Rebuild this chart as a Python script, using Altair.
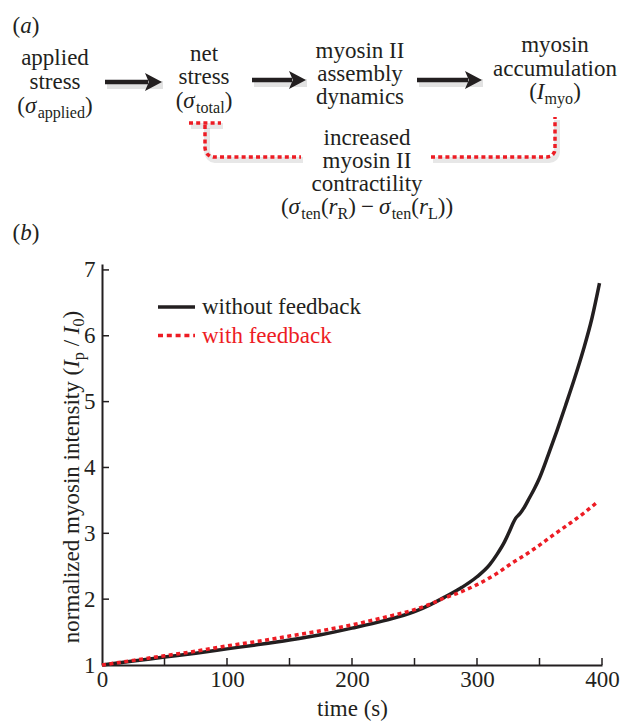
import altair as alt
import pandas as pd

# ---------------- values ----------------
time_without = [0, 25, 50, 75, 100, 125, 150, 175, 200, 225, 250, 262, 275, 288, 300, 310,
                316, 322, 326, 329, 331, 334, 338, 342, 346, 350, 357, 364, 371, 378, 385, 392, 398]
intensity_without = [1.00, 1.06, 1.12, 1.18, 1.245, 1.31, 1.38, 1.46, 1.56, 1.67, 1.81, 1.91,
                     2.04, 2.18, 2.34, 2.52, 2.68, 2.87, 3.03, 3.16, 3.23, 3.29, 3.40, 3.54,
                     3.68, 3.84, 4.19, 4.56, 4.95, 5.35, 5.78, 6.27, 6.80]
time_with = [0, 25, 50, 75, 100, 125, 150, 175, 200, 225, 250, 262, 273, 287, 300, 315, 329,
             340, 350, 360, 372, 385, 396]
intensity_with = [1.00, 1.07, 1.14, 1.21, 1.29, 1.36, 1.44, 1.52, 1.61, 1.72, 1.84, 1.92, 2.01,
                  2.11, 2.22, 2.38, 2.56, 2.69, 2.82, 2.96, 3.12, 3.30, 3.47]
series_names = ["without feedback", "with feedback"]
x_label_values = [0, 100, 200, 300, 400]
x_tick_values = [50, 100, 150, 200, 250, 300, 350, 400]
y_label_values = [1, 2, 3, 4, 5, 6, 7]
y_tick_values = [2, 3, 4, 5, 6, 7]

# ---------------- layout (page pixels) ----------------
LEFT, TOP, W, H = 102, 264, 500, 401
X0, X1 = 0, 400
Y0, Y1 = 1, 7.09
FONT = "Liberation Serif"
DARK = "#231F20"
RED = "#ED1C24"
FS = 23


def dx(px):
    return (px - LEFT) / W * (X1 - X0) + X0


def dy(py):
    return Y0 + (TOP + H - py) / H * (Y1 - Y0)


REG = {' ': 250, '(': 333, ')': 333, 'a': 444, 'b': 500, 'c': 444, 'd': 500, 'e': 444,
       'f': 333, 'g': 500, 'h': 500, 'i': 278, 'j': 278, 'k': 500, 'l': 278, 'm': 778,
       'n': 500, 'o': 500, 'p': 500, 'q': 500, 'r': 333, 's': 389, 't': 278, 'u': 500,
       'v': 500, 'w': 722, 'x': 500, 'y': 500, 'z': 444, 'I': 333, 'R': 667, 'L': 611,
       '/': 278, '0': 500, '−': 564, 'σ': 550}
ITA = {'I': 333, 'r': 389, 'a': 500, 'b': 500, 'σ': 550, 'p': 500}


def text_width(s, size, italic=False):
    tab = ITA if italic else REG
    return sum(tab.get(c, REG.get(c, 500)) for c in s) / 1000 * size


pieces = []


def add_text(text, px, py, color=DARK, italic=False, align="center", size=FS, angle=0):
    pieces.append(dict(x=dx(px), y=dy(py), text=text, color=color, italic=italic,
                       align=align, size=size, angle=angle))


def add_runs(runs, c, base, color=DARK, size=FS, vertical=False):
    sub = size * 0.7
    shift = size * 0.22
    items = []
    for text, kind in runs:
        if kind == "g":
            items.append((None, kind, text * size))
            continue
        s = sub if kind in ("s", "si") else size
        items.append((text, kind, text_width(text, s, kind in ("i", "si"))))
    total = sum(w for _, _, w in items)
    pos = -total / 2
    for text, kind, w in items:
        if text is not None:
            s = sub if kind in ("s", "si") else size
            it = kind in ("i", "si")
            off = shift if kind in ("s", "si") else 0
            if vertical:
                add_text(text, base + off, c - pos, color, it, "left", s, 270)
            else:
                add_text(text, c + pos, base + off, color, it, "left", s, 0)
        pos += w


# panel labels
add_runs([("(", "n"), ("a", "i"), (")", "n")], 26, 33)
add_runs([("(", "n"), ("b", "i"), (")", "n")], 26, 240)
# diagram column 1
add_text("applied", 55, 65)
add_text("stress", 55, 89)
add_runs([("(", "n"), ("σ", "i"), ("applied", "s"), (")", "n")], 55, 113)
# column 2
add_text("net", 204, 61)
add_text("stress", 204, 84)
add_runs([("(", "n"), ("σ", "i"), ("total", "s"), (")", "n")], 204, 108)
# column 3
add_text("myosin II", 360, 58)
add_text("assembly", 360, 81)
add_text("dynamics", 360, 104)
# column 4
add_text("myosin", 555, 52)
add_text("accumulation", 555, 76)
add_runs([("(", "n"), ("I", "i"), ("myo", "s"), (")", "n")], 555, 99)
# feedback text
add_text("increased", 367, 145)
add_text("myosin II", 367, 168)
add_text("contractility", 367, 191)
add_runs([("(", "n"), ("σ", "i"), ("ten", "s"), ("(", "n"), ("r", "i"), ("R", "s"), (")", "n"),
          (0.22, "g"), ("−", "n"), (0.22, "g"), ("σ", "i"), ("ten", "s"), ("(", "n"), ("r", "i"),
          ("L", "s"), ("))", "n")], 367, 214)
# legend text
add_text(series_names[0], 202, 314, DARK, False, "left")
add_text(series_names[1], 202, 343, RED, False, "left")
# y axis title (rotated)
add_runs([("normalized myosin intensity (", "n"), ("I", "i"), ("p", "s"), (0.25, "g"), ("/", "n"),
          (0.25, "g"), ("I", "i"), ("0", "s"), (")", "n")], 477, 79, DARK, FS, vertical=True)
ann = pd.DataFrame(pieces)

# shared scales and axes
xs = alt.Scale(domain=[X0, X1], nice=False, zero=False)
ys = alt.Scale(domain=[Y0, Y1], nice=False, zero=False)
xax = alt.Axis(values=x_label_values, ticks=False, tickSize=0, grid=False, labelFont=FONT,
               labelFontSize=FS, labelColor=DARK, domainColor=DARK, domainWidth=2,
               labelFlush=False, labelPadding=3, title="time (s)", titleFont=FONT,
               titleFontSize=FS, titleFontWeight="normal", titleColor=DARK, titlePadding=6)
yax = alt.Axis(values=y_label_values, ticks=False, tickSize=0, grid=False, labelFont=FONT,
               labelFontSize=FS, labelColor=DARK, domainColor=DARK, domainWidth=2,
               labelPadding=7, title=None)


def X(f):
    return alt.X(f, type="quantitative", scale=xs, axis=xax)


def Y(f):
    return alt.Y(f, type="quantitative", scale=ys, axis=yax)


df_without = pd.DataFrame({"t": time_without, "v": intensity_without})
df_with = pd.DataFrame({"t": time_with, "v": intensity_with})

line_without = alt.Chart(df_without).mark_line(color=DARK, strokeWidth=3.5, interpolate="monotone").encode(
    x=X("t"), y=Y("v"))
line_with = alt.Chart(df_with).mark_line(color=RED, strokeWidth=3.5, strokeDash=[4, 3.5],
                                         interpolate="monotone").encode(x=X("t"), y=Y("v"))

xt = pd.DataFrame({"t": x_tick_values, "v": [Y0] * len(x_tick_values)})
yt = pd.DataFrame({"t": [X0] * len(y_tick_values), "v": y_tick_values})
xticks = alt.Chart(xt).mark_tick(orient="vertical", size=7, thickness=1.5, yOffset=-3.5,
                                 color=DARK, opacity=1).encode(x=X("t"), y=Y("v"))
yticks = alt.Chart(yt).mark_tick(orient="horizontal", size=7, thickness=1.5, xOffset=3.5,
                                 color=DARK, opacity=1).encode(x=X("t"), y=Y("v"))

# legend samples
leg = pd.DataFrame({"x": [dx(158)], "x2": [dx(195)], "y1": [dy(307)], "y2": [dy(335.5)]})
leg_black = alt.Chart(leg).mark_rule(color=DARK, strokeWidth=3.5).encode(
    x=X("x"), x2="x2", y=Y("y1"))
leg_red = alt.Chart(leg).mark_rule(color=RED, strokeWidth=3.5, strokeDash=[5, 3.8]).encode(
    x=X("x"), x2="x2", y=Y("y2"))

# arrows of the diagram
arrows_px = [(105, 162, 82), (252, 306, 80), (417, 482, 80)]
HEAD = 17
arr = pd.DataFrame({
    "x": [dx(a) for a, b, c in arrows_px],
    "x2": [dx(b - HEAD + 3) for a, b, c in arrows_px],
    "hx": [dx(b - HEAD / 2) for a, b, c in arrows_px],
    "y": [dy(c) for a, b, c in arrows_px],
    "sx": [dx(a + 2) for a, b, c in arrows_px],
    "sx2": [dx(b + 1) for a, b, c in arrows_px],
    "sy": [dy(c + 3) for a, b, c in arrows_px],
})
arrow_shadow = alt.Chart(arr).mark_rule(color="#7a7a7a", opacity=0.22, strokeWidth=8).encode(
    x=X("sx"), x2="sx2", y=Y("sy"))
arrow_shaft = alt.Chart(arr).mark_rule(color=DARK, strokeWidth=4.5).encode(x=X("x"), x2="x2", y=Y("y"))
arrow_head = alt.Chart(arr).mark_point(shape="M -1 -1.05 L 1 0 L -1 1.05 L -0.55 0 Z", filled=True,
                                       size=HEAD * HEAD, color=DARK, opacity=1, strokeWidth=0).encode(
    x=X("hx"), y=Y("y"))

# red dotted feedback path
paths_px = {
    "bar": [(189, 123), (221, 123)],
    "left": [(205, 125), (205, 148), (205.7, 151.5), (207.6, 154.4), (210, 156.3), (213, 157), (301, 157)],
    "right": [(431, 157), (547, 157), (550.4, 156.3), (552.8, 154.6), (554.4, 152), (555, 149), (555, 117)],
}
rows = []
for name, pts in paths_px.items():
    for i, (px, py) in enumerate(pts):
        rows.append({"path": name, "i": i, "x": dx(px), "y": dy(py),
                     "sx": dx(px + 2), "sy": dy(py + 3)})
red_df = pd.DataFrame(rows)
red_shadow = alt.Chart(red_df).mark_line(color="#7a7a7a", opacity=0.18, strokeWidth=6).encode(
    x=X("sx"), y=Y("sy"), detail="path:N", order="i:Q")
red_path = alt.Chart(red_df).mark_line(color=RED, strokeWidth=3.5, strokeDash=[4, 3.2]).encode(
    x=X("x"), y=Y("y"), detail="path:N", order="i:Q")

# text layers
text_layers = []
for italic in (False, True):
    for align in ("left", "center"):
        sub = ann[(ann["italic"] == italic) & (ann["align"] == align)]
        if len(sub) == 0:
            continue
        text_layers.append(
            alt.Chart(sub).mark_text(font=FONT, fontStyle="italic" if italic else "normal",
                                     align=align, baseline="alphabetic").encode(
                x=X("x"), y=Y("y"), text="text:N",
                color=alt.Color("color:N", scale=None),
                size=alt.Size("size:Q", scale=None),
                angle=alt.Angle("angle:Q", scale=None)))

chart = alt.layer(
    arrow_shadow, red_shadow, line_without, line_with, xticks, yticks, leg_black, leg_red,
    arrow_shaft, arrow_head, red_path, *text_layers
).properties(
    width=W, height=H,
    padding={"left": LEFT, "top": TOP, "right": 620 - LEFT - W, "bottom": 722 - TOP - H},
    autosize=alt.AutoSizeParams(type="none"),
    background="white",
).configure_view(stroke=None)

chart.save("out.html", embed_options={"renderer": "svg", "actions": False})
